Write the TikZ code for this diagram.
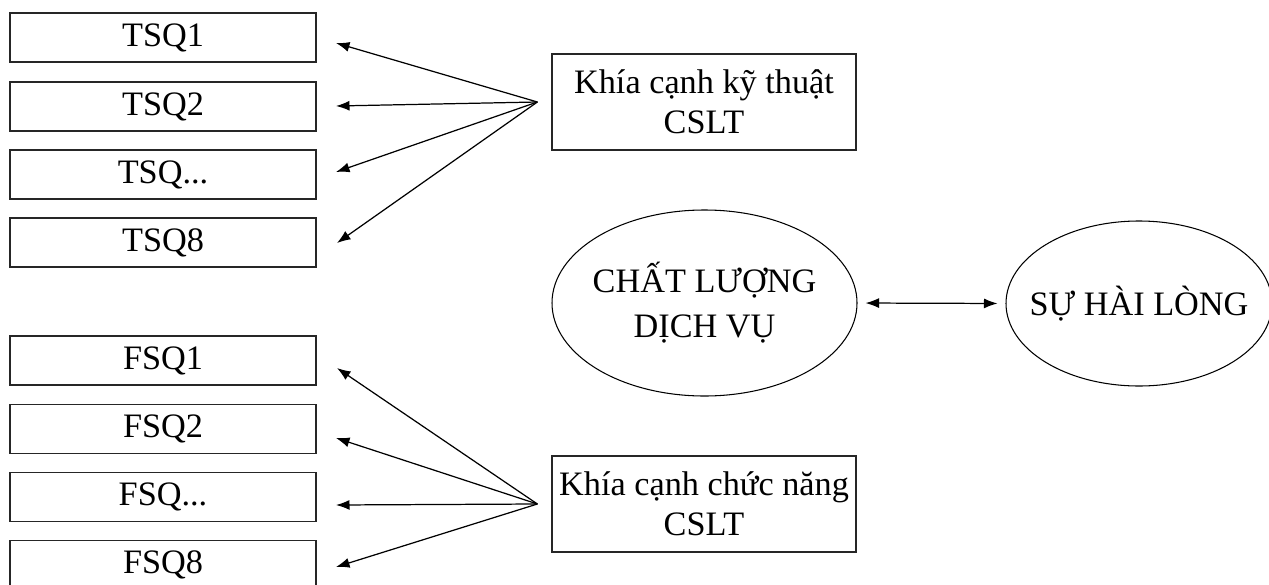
\documentclass[tikz,border=0pt]{standalone}
\usepackage{fontspec}
\setmainfont{Liberation Serif}
\usetikzlibrary{shapes.geometric,arrows.meta}

\begin{document}
\begin{tikzpicture}[
	item/.style={draw=black!85,line width=0.7pt,minimum width=6.12cm,minimum height=0.98cm,inner sep=0pt,font=\fontsize{19.5}{23}\selectfont},
	aspect/.style={draw=black!85,line width=0.7pt,minimum width=6.08cm,minimum height=1.92cm,inner sep=0pt,align=center,font=\fontsize{19.5}{23}\selectfont},
	oval/.style={shape=ellipse,draw=black,line width=0.6pt,inner xsep=-10pt,inner ysep=0pt,align=center,font=\fontsize{19.5}{25.5}\selectfont},
	load/.style={-{Latex[length=0.27cm,width=0.2cm]},line width=0.7pt},
	link/.style={{Latex[length=0.27cm,width=0.2cm]}-{Latex[length=0.27cm,width=0.2cm]},line width=0.7pt}
	]
	
	\useasboundingbox (0,0) rectangle (25.38,11.68);
	
	\node[item] (t1) at (3.26,10.93) {TSQ1};
	\node[item] (t2) at (3.26,9.55)  {TSQ2};
	\node[item] (t3) at (3.26,8.19)  {TSQ...};
	\node[item] (t4) at (3.26,6.83)  {TSQ8};
	\node[item] (f1) at (3.26,4.47)  {FSQ1};
	\node[item] (f2) at (3.26,3.10)  {FSQ2};
	\node[item] (f3) at (3.26,1.74)  {FSQ...};
	\node[item] (f4) at (3.26,0.38)  {FSQ8};
	
	\node[aspect] (kt) at (14.08,9.64) {Khía cạnh kỹ thuật\\CSLT};
	\node[aspect] (kc) at (14.08,1.60) {Khía cạnh chức năng\\CSLT};
	
	\node[oval,minimum width=6.1cm,minimum height=3.72cm]  (cl) at (14.09,5.62) {CHẤT LƯỢNG\\DỊCH VỤ};
	\node[oval,minimum width=5.32cm,minimum height=3.3cm]  (hl) at (22.78,5.61) {SỰ HÀI LÒNG};
	
	% fan origins and arrow ends
	\coordinate (kto) at ([xshift=-0.28cm]kt.west);
	\coordinate (kco) at ([xshift=-0.28cm]kc.west);
	\coordinate (t1in) at (6.72,10.82);
	\coordinate (t2in) at (6.72,9.56);
	\coordinate (t3in) at (6.72,8.24);
	\coordinate (t4in) at (6.74,6.82);
	\coordinate (f1in) at (6.74,4.32);
	\coordinate (f2in) at (6.72,2.92);
	\coordinate (f3in) at (6.72,1.58);
	\coordinate (f4in) at (6.72,0.34);
	
	\draw[load] (kto) -- (t1in);
	\draw[load] (kto) -- (t2in);
	\draw[load] (kto) -- (t3in);
	\draw[load] (kto) -- (t4in);
	\draw[load] (kco) -- (f1in);
	\draw[load] (kco) -- (f2in);
	\draw[load] (kco) -- (f3in);
	\draw[load] (kco) -- (f4in);
	
	\draw[link,shorten <=0.16cm,shorten >=0.16cm] (cl.east) -- (hl.west);
	
\end{tikzpicture}
\end{document}
